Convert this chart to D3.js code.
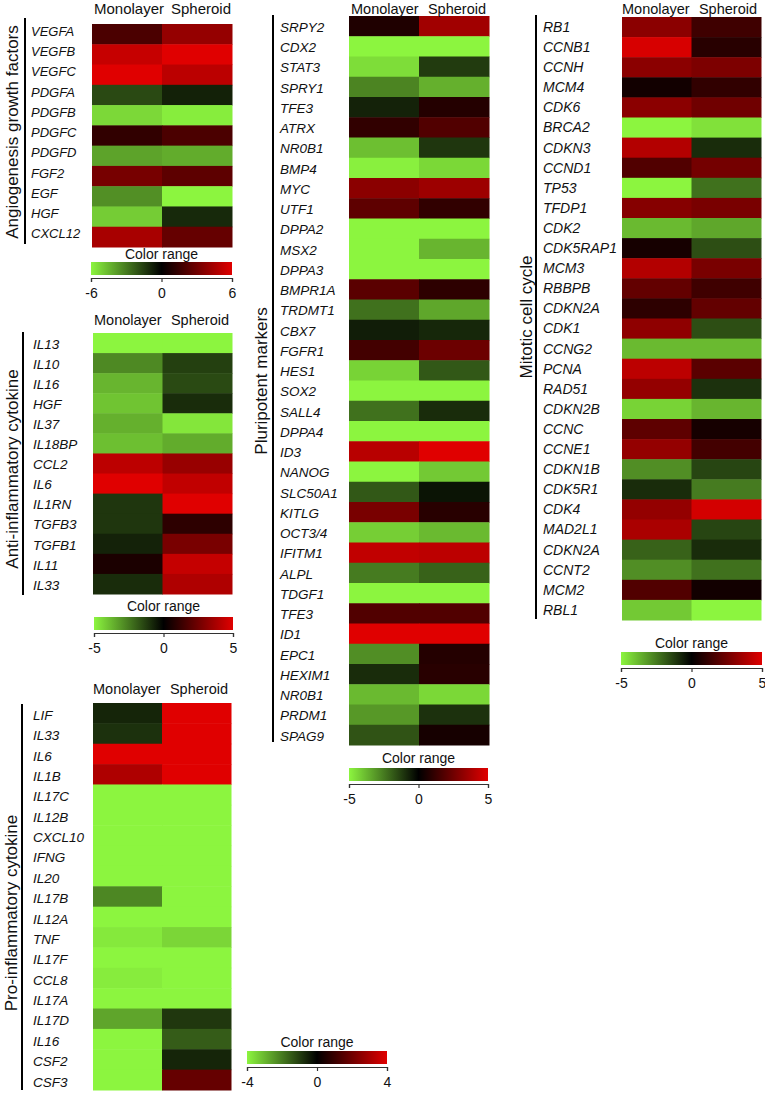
<!DOCTYPE html>
<html>
<head>
<meta charset="utf-8">
<script src="https://cdn.jsdelivr.net/npm/d3@7"></script>
<style>
  html, body { margin: 0; padding: 0; background: #fff; }
  svg { display: block; font-family: "Liberation Sans", Arial, sans-serif; }
</style>
</head>
<body>
<svg id="chart" width="765" height="1094"></svg>
<script>
// ---------------- DATA ----------------
const columns = ["Monolayer", "Spheroid"];

const angioGenes = ["VEGFA","VEGFB","VEGFC","PDGFA","PDGFB","PDGFC","PDGFD","FGF2","EGF","HGF","CXCL12"];
const angioMono  = [2.0, 5.3, 6.0, -1.8, -5.3, 1.3, -4.0, 3.2, -3.5, -5.0, 4.5];
const angioSph   = [4.0, 6.0, 5.0, -0.8, -5.8, 2.0, -4.2, 2.5, -6.0, -1.0, 2.7];
const angioTicks = [-6, 0, 6];

const antiGenes = ["IL13","IL10","IL16","HGF","IL37","IL18BP","CCL2","IL6","IL1RN","TGFB3","TGFB1","IL11","IL33"];
const antiMono  = [-5.0, -2.8, -3.7, -4.0, -3.6, -3.9, 4.2, 5.0, -1.1, -1.1, -0.7, 0.6, -0.9];
const antiSph   = [-5.0, -1.3, -1.5, -0.9, -4.7, -3.5, 3.4, 4.3, 5.0, 1.0, 2.7, 4.4, 3.9];
const antiTicks = [-5, 0, 5];

const proGenes = ["LIF","IL33","IL6","IL1B","IL17C","IL12B","CXCL10","IFNG","IL20","IL17B","IL12A","TNF","IL17F","CCL8","IL17A","IL17D","IL16","CSF2","CSF3"];
const proMono  = [-0.6, -0.8, 4.0, 3.1, -4, -4, -4, -4, -4, -2.2, -4, -3.8, -4, -3.85, -4, -2.7, -4, -4, -4];
const proSph   = [4.0, 4.0, 4.0, 4.0, -4, -4, -4, -4, -4, -4, -4, -3.5, -4, -4, -4, -0.9, -1.5, -0.6, 1.8];
const proTicks = [-4, 0, 4];

const pluriGenes = ["SRPY2","CDX2","STAT3","SPRY1","TFE3","ATRX","NR0B1","BMP4","MYC","UTF1","DPPA2","MSX2","DPPA3","BMPR1A","TRDMT1","CBX7","FGFR1","HES1","SOX2","SALL4","DPPA4","ID3","NANOG","SLC50A1","KITLG","OCT3/4","IFITM1","ALPL","TDGF1","TFE3","ID1","EPC1","HEXIM1","NR0B1","PRDM1","SPAG9"];
const pluriMono  = [0.7, -5, -4.5, -2.7, -0.7, 1.1, -3.9, -4.9, 3.1, 2.1, -5, -5, -5, 2.0, -2.3, -0.6, 1.5, -4.3, -5, -2.3, -5, 4.1, -5, -1.8, 2.7, -4.2, 4.3, -2.5, -5, 1.8, 5.0, -2.9, -0.9, -3.8, -3.1, -1.7];
const pluriSph   = [3.6, -5, -1.2, -3.6, 0.8, 1.8, -1.1, -4.4, 3.5, 1.1, -5, -3.7, -5, 1.0, -3.4, -0.8, 2.4, -1.8, -5, -0.9, -5, 5.0, -4.1, -0.4, 0.9, -3.8, 4.2, -2.0, -5, 1.8, 5.0, 0.8, 0.9, -4.4, -1.0, 0.5];
const pluriTicks = [-5, 0, 5];

const mitoGenes = ["RB1","CCNB1","CCNH","MCM4","CDK6","BRCA2","CDKN3","CCND1","TP53","TFDP1","CDK2","CDK5RAP1","MCM3","RBBPB","CDKN2A","CDK1","CCNG2","PCNA","RAD51","CDKN2B","CCNC","CCNE1","CDKN1B","CDK5R1","CDK4","MAD2L1","CDKN2A","CCNT2","MCM2","RBL1"];
const mitoMono  = [3.1, 4.8, 3.1, 0.4, 3.1, -5, 4.0, 1.8, -5, 3.0, -3.8, 0.5, 4.0, 2.2, 1.0, 3.2, -3.8, 4.2, 3.3, -4.3, 2.1, 3.3, -2.9, -0.9, 3.3, 3.8, -2.0, -2.9, 1.8, -4.1];
const mitoSph   = [1.4, 0.9, 2.8, 1.1, 2.5, -4.6, -0.9, 2.6, -2.3, 2.7, -3.4, -1.6, 2.7, 1.4, 2.2, -1.6, -3.8, 2.0, -1.0, -3.7, 0.5, 1.5, -1.4, -2.5, 4.7, -1.4, -0.9, -2.3, 0.4, -5];
const mitoTicks = [-5, 0, 5];

// ---------------- LAYOUT ----------------
const GREEN = "#8cf53f", BLACK = "#000000", RED = "#e00000";

const panels = [
  { title: "Angiogenesis growth factors", genes: angioGenes, mono: angioMono, sph: angioSph, ticks: angioTicks,
    x0: 92, x1: 232, top: 24, bottom: 247, headY: 14, headSize: 15, headL: 2, headR: 1,
    labelX: 31, labelDy: -3, labelSize: 13,
    barX: 25, barY0: 18, barY1: 244, titleX: 18, titleY: 132,
    legTitleY: 259, legY: 262, legX0: 91, legX1: 232 },
  { title: "Anti-inflammatory cytokine", genes: antiGenes, mono: antiMono, sph: antiSph, ticks: antiTicks,
    x0: 93, x1: 232, top: 333, bottom: 594, headY: 325, headSize: 14.5, headL: 1, headR: 3,
    labelX: 33, labelDy: 1, labelSize: 13.5,
    barX: 23, barY0: 332, barY1: 595, titleX: 18, titleY: 469,
    legTitleY: 611, legY: 617, legX0: 94, legX1: 233 },
  { title: "Pro-inflammatory cytokine", genes: proGenes, mono: proMono, sph: proSph, ticks: proTicks,
    x0: 93, x1: 231, top: 703, bottom: 1090, headY: 694, headSize: 14.5, headL: 0, headR: 3,
    labelX: 33, labelDy: 2, labelSize: 13.5,
    barX: 22, barY0: 704, barY1: 1090, titleX: 17, titleY: 913,
    legTitleY: 1047, legY: 1051, legX0: 247, legX1: 387 },
  { title: "Pluripotent markers", genes: pluriGenes, mono: pluriMono, sph: pluriSph, ticks: pluriTicks,
    x0: 349, x1: 489, top: 16, bottom: 745, headY: 14, headSize: 14.5, headL: 2, headR: 3,
    labelX: 280, labelDy: 1, labelSize: 13.5,
    barX: 273, barY0: 15, barY1: 742, titleX: 267, titleY: 381,
    legTitleY: 763, legY: 768, legX0: 349, legX1: 488 },
  { title: "Mitotic cell cycle", genes: mitoGenes, mono: mitoMono, sph: mitoSph, ticks: mitoTicks,
    x0: 622, x1: 761, top: 17, bottom: 620, headY: 14, headSize: 14.5, headL: 0, headR: 4,
    labelX: 543, labelDy: 0, labelSize: 14,
    barX: 536, barY0: 15, barY1: 619, titleX: 532, titleY: 317,
    legTitleY: 648, legY: 652, legX0: 621, legX1: 762 }
];

const svg = d3.select("#chart");
const defs = svg.append("defs");
const grad = defs.append("linearGradient").attr("id", "cgrad").attr("x1", "0%").attr("x2", "100%");
grad.append("stop").attr("offset", "0%").attr("stop-color", GREEN);
grad.append("stop").attr("offset", "50%").attr("stop-color", BLACK);
grad.append("stop").attr("offset", "100%").attr("stop-color", RED);

panels.forEach(p => {
  const g = svg.append("g");
  const m = d3.max(p.ticks);
  const color = d3.scaleLinear().domain([-m, 0, m]).range([GREEN, BLACK, RED]).clamp(true);
  const x = d3.scaleBand().domain(columns).range([p.x0, p.x1]);
  const y = d3.scaleBand().domain(d3.range(p.genes.length)).range([p.top, p.bottom]);

  const rows = p.genes.map((gname, i) => ({ i, gname, vals: [p.mono[i], p.sph[i]] }));
  const cells = rows.flatMap(r => r.vals.map((v, j) => ({ i: r.i, col: columns[j], v })));

  g.selectAll("rect.cell").data(cells).join("rect")
    .attr("class", "cell")
    .attr("x", d => x(d.col))
    .attr("y", d => y(d.i))
    .attr("width", x.bandwidth() + 0.5)
    .attr("height", y.bandwidth() + 0.5)
    .attr("fill", d => color(d.v));

  // column headers: left one start-anchored, right one end-anchored
  g.selectAll("text.head").data(columns).join("text")
    .attr("class", "head")
    .attr("x", (d, j) => j === 0 ? p.x0 + p.headL : p.x1 - p.headR)
    .attr("y", p.headY)
    .attr("text-anchor", (d, j) => j === 0 ? "start" : "end")
    .attr("font-size", p.headSize)
    .attr("fill", "#111")
    .text(d => d);

  // gene labels
  g.selectAll("text.gene").data(rows).join("text")
    .attr("class", "gene")
    .attr("x", p.labelX)
    .attr("y", d => y(d.i) + y.bandwidth() / 2 + p.labelDy)
    .attr("dy", "0.35em")
    .attr("font-size", p.labelSize)
    .attr("font-style", "italic")
    .attr("fill", "#111")
    .text(d => d.gname);

  // vertical bracket line
  g.append("line")
    .attr("x1", p.barX).attr("x2", p.barX)
    .attr("y1", p.barY0).attr("y2", p.barY1)
    .attr("stroke", "#000").attr("stroke-width", 2);

  // rotated group title
  g.append("text")
    .attr("transform", `translate(${p.titleX},${p.titleY}) rotate(-90)`)
    .attr("text-anchor", "middle")
    .attr("font-size", 17)
    .attr("fill", "#111")
    .text(p.title);

  // color legend
  const lc = (p.legX0 + p.legX1) / 2;
  g.append("text")
    .attr("x", lc).attr("y", p.legTitleY)
    .attr("text-anchor", "middle")
    .attr("font-size", 14)
    .attr("fill", "#111")
    .text("Color range");
  g.append("rect")
    .attr("x", p.legX0).attr("y", p.legY)
    .attr("width", p.legX1 - p.legX0).attr("height", 13)
    .attr("fill", "url(#cgrad)");
  const lx = d3.scaleLinear().domain([-m, m]).range([p.legX0, p.legX1]);
  const ax = g.append("g")
    .attr("transform", `translate(0,${p.legY + 16})`)
    .call(d3.axisBottom(lx).tickValues(p.ticks).tickSize(4).tickSizeOuter(4).tickFormat(d => String(d)));
  ax.select(".domain").attr("stroke", "#333").attr("stroke-width", 1.2);
  ax.selectAll(".tick line").attr("stroke", "#333").attr("stroke-width", 1.2);
  ax.selectAll(".tick text").attr("font-size", 14).attr("fill", "#111")
    .attr("font-family", "'Liberation Sans', Arial, sans-serif").attr("dy", "0.9em");
});
</script>
</body>
</html>
